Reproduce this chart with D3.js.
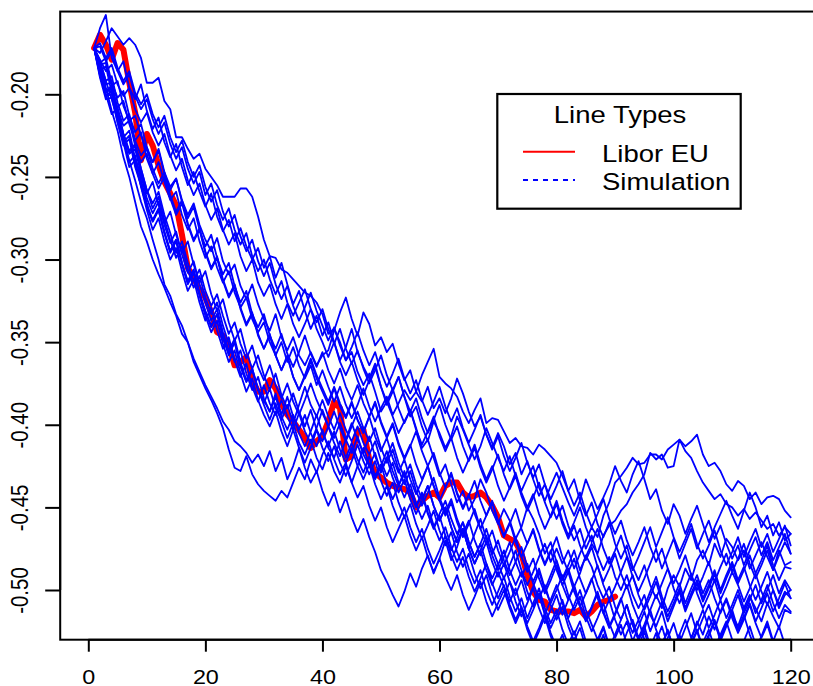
<!DOCTYPE html>
<html>
<head>
<meta charset="utf-8">
<script src="https://cdn.jsdelivr.net/npm/d3@7"></script>
<style>
  html, body { margin: 0; padding: 0; background: #ffffff; }
  svg { display: block; font-family: "Liberation Sans", Arial, Helvetica, sans-serif; }
</style>
</head>
<body>
<svg id="chart" width="813" height="686"></svg>
<script>
// Observed Libor EU rate, days 1..90
const liborEU = [
  -.172, -.164, -.170, -.179, -.169, -.173, -.193, -.211, -.240, -.224,
  -.231, -.243, -.253, -.260, -.267, -.285, -.305, -.311, -.318, -.323,
  -.332, -.344, -.346, -.352, -.364, -.362, -.359, -.373, -.380, -.380,
  -.373, -.378, -.387, -.394, -.398, -.403, -.408, -.414, -.410, -.407,
  -.398, -.386, -.390, -.421, -.419, -.404, -.403, -.421, -.429, -.432,
  -.435, -.437, -.438, -.439, -.441, -.450, -.446, -.443, -.441, -.444,
  -.437, -.435, -.435, -.441, -.444, -.443, -.441, -.444, -.449, -.456,
  -.467, -.469, -.471, -.478, -.491, -.501, -.506, -.507, -.512, -.513,
  -.513, -.513, -.514, -.512, -.516, -.513, -.509, -.507, -.506, -.504
];

// Simulated paths, days 1..120
const sim01 = [
  -.172, -.175, -.168, -.160, -.165, -.170, -.166, -.170, -.178, -.193,
  -.193, -.190, -.204, -.209, -.226, -.226, -.233, -.239, -.236, -.245,
  -.250, -.255, -.262, -.262, -.262, -.257, -.257, -.262, -.274, -.288,
  -.298, -.299, -.306, -.308, -.312, -.316, -.320, -.322, -.326, -.333,
  -.345, -.342, -.350, -.361, -.356, -.368, -.376, -.369, -.380, -.392,
  -.386, -.395, -.405, -.398, -.391, -.402, -.414, -.409, -.420, -.431,
  -.424, -.436, -.447, -.440, -.452, -.445, -.433, -.441, -.452, -.460,
  -.451, -.458, -.469, -.462, -.450, -.457, -.466, -.478, -.471, -.483,
  -.494, -.487, -.498, -.490, -.479, -.486, -.497, -.505, -.498, -.510,
  -.518, -.509, -.521, -.530, -.524, -.512, -.503, -.511, -.499, -.491,
  -.498, -.487, -.494, -.482, -.476, -.485, -.472, -.480, -.469, -.474,
  -.482, -.476, -.487, -.479, -.471, -.480, -.488, -.476, -.485, -.483
];
const sim02 = [
  -.172, -.160, -.152, -.178, -.186, -.180, -.196, -.203, -.194, -.210,
  -.221, -.214, -.229, -.238, -.230, -.244, -.255, -.247, -.259, -.268,
  -.260, -.274, -.283, -.276, -.289, -.281, -.292, -.300, -.293, -.305,
  -.298, -.311, -.302, -.315, -.327, -.319, -.331, -.342, -.334, -.346,
  -.338, -.350, -.361, -.353, -.342, -.356, -.365, -.372, -.363, -.377,
  -.388, -.380, -.371, -.383, -.395, -.389, -.401, -.410, -.398, -.405,
  -.414, -.407, -.395, -.403, -.412, -.421, -.413, -.402, -.411, -.420,
  -.428, -.419, -.431, -.440, -.432, -.425, -.438, -.446, -.437, -.429,
  -.438, -.447, -.455, -.446, -.433, -.442, -.451, -.444, -.436, -.425,
  -.434, -.441, -.430, -.422, -.433, -.445, -.439, -.452, -.460, -.448,
  -.455, -.466, -.457, -.449, -.460, -.471, -.462, -.454, -.446, -.455,
  -.463, -.452, -.441, -.450, -.462, -.455, -.467, -.459, -.470, -.466
];
const sim03 = [
  -.172, -.182, -.181, -.195, -.192, -.207, -.216, -.213, -.225, -.234,
  -.241, -.233, -.247, -.256, -.251, -.264, -.273, -.266, -.279, -.288,
  -.295, -.287, -.301, -.309, -.303, -.316, -.324, -.315, -.327, -.336,
  -.343, -.333, -.347, -.355, -.347, -.358, -.364, -.356, -.364, -.358,
  -.355, -.343, -.332, -.323, -.336, -.346, -.332, -.339, -.352, -.347,
  -.356, -.351, -.363, -.373, -.367, -.380, -.386, -.377, -.390, -.384,
  -.393, -.384, -.372, -.381, -.392, -.401, -.395, -.406, -.414, -.405,
  -.413, -.424, -.417, -.430, -.422, -.433, -.443, -.436, -.448, -.457,
  -.449, -.461, -.470, -.463, -.475, -.467, -.479, -.488, -.480, -.492,
  -.500, -.491, -.503, -.511, -.503, -.515, -.522, -.513, -.526, -.534,
  -.527, -.538, -.530, -.519, -.527, -.516, -.524, -.513, -.505, -.515,
  -.522, -.512, -.504, -.511, -.519, -.508, -.516, -.523, -.512, -.514
];
const sim04 = [
  -.172, -.186, -.183, -.199, -.208, -.204, -.218, -.228, -.223, -.239,
  -.248, -.241, -.253, -.264, -.259, -.273, -.282, -.275, -.289, -.299,
  -.292, -.305, -.314, -.307, -.320, -.329, -.323, -.336, -.344, -.338,
  -.350, -.358, -.350, -.362, -.353, -.364, -.372, -.364, -.376, -.367,
  -.377, -.386, -.377, -.388, -.396, -.388, -.378, -.389, -.398, -.390,
  -.383, -.394, -.387, -.379, -.385, -.380, -.370, -.362, -.354, -.371,
  -.375, -.378, -.383, -.392, -.399, -.391, -.384, -.399, -.396, -.397,
  -.404, -.411, -.408, -.413, -.414, -.418, -.412, -.415, -.419, -.423,
  -.431, -.440, -.433, -.446, -.455, -.447, -.460, -.468, -.459, -.472,
  -.481, -.473, -.486, -.494, -.485, -.497, -.505, -.496, -.487, -.499,
  -.508, -.499, -.490, -.502, -.511, -.503, -.494, -.506, -.498, -.489,
  -.497, -.507, -.499, -.490, -.501, -.509, -.500, -.511, -.503, -.500
];
const sim05 = [
  -.172, -.190, -.203, -.202, -.217, -.229, -.225, -.242, -.255, -.268,
  -.276, -.269, -.283, -.295, -.288, -.302, -.314, -.307, -.321, -.332,
  -.341, -.333, -.347, -.358, -.350, -.365, -.374, -.366, -.379, -.385,
  -.392, -.381, -.394, -.383, -.395, -.403, -.394, -.405, -.413, -.403,
  -.414, -.420, -.410, -.420, -.411, -.421, -.429, -.419, -.431, -.424,
  -.436, -.445, -.437, -.428, -.440, -.449, -.441, -.453, -.462, -.454,
  -.446, -.457, -.466, -.459, -.471, -.480, -.472, -.463, -.475, -.484,
  -.493, -.485, -.476, -.488, -.497, -.489, -.480, -.472, -.483, -.475,
  -.484, -.476, -.487, -.478, -.470, -.462, -.468, -.455, -.447, -.435,
  -.431, -.426, -.420, -.424, -.423, -.418, -.418, -.421, -.415, -.412,
  -.409, -.413, -.410, -.406, -.418, -.425, -.423, -.428, -.436, -.440,
  -.434, -.437, -.445, -.441, -.448, -.444, -.443, -.445, -.452, -.456
];
const sim06 = [
  -.172, -.186, -.199, -.196, -.212, -.224, -.234, -.231, -.245, -.258,
  -.266, -.259, -.273, -.284, -.296, -.289, -.302, -.313, -.306, -.319,
  -.328, -.321, -.334, -.345, -.338, -.351, -.360, -.352, -.365, -.373,
  -.364, -.376, -.384, -.375, -.386, -.394, -.385, -.375, -.385, -.393,
  -.401, -.392, -.402, -.410, -.401, -.392, -.402, -.410, -.402, -.414,
  -.423, -.415, -.427, -.436, -.428, -.440, -.449, -.441, -.432, -.444,
  -.453, -.445, -.457, -.466, -.458, -.470, -.479, -.471, -.483, -.492,
  -.484, -.495, -.503, -.494, -.506, -.498, -.489, -.500, -.491, -.482,
  -.493, -.485, -.476, -.488, -.480, -.472, -.478, -.467, -.461, -.458,
  -.452, -.448, -.441, -.436, -.430, -.417, -.421, -.418, -.426, -.425,
  -.409, -.416, -.420, -.428, -.435, -.440, -.445, -.442, -.448, -.450,
  -.455, -.451, -.457, -.453, -.458, -.463, -.460, -.467, -.462, -.466
];
const sim07 = [
  -.172, -.185, -.196, -.210, -.222, -.238, -.250, -.265, -.280, -.289,
  -.300, -.309, -.317, -.326, -.334, -.345, -.350, -.362, -.370, -.378,
  -.385, -.393, -.402, -.415, -.426, -.428, -.419, -.430, -.436, -.440,
  -.443, -.446, -.440, -.444, -.435, -.426, -.433, -.421, -.429, -.418,
  -.410, -.421, -.430, -.423, -.435, -.444, -.437, -.449, -.458, -.450,
  -.462, -.471, -.463, -.455, -.467, -.476, -.468, -.480, -.489, -.481,
  -.492, -.500, -.491, -.503, -.512, -.504, -.495, -.507, -.516, -.508,
  -.500, -.511, -.520, -.512, -.524, -.533, -.525, -.516, -.528, -.537,
  -.546, -.538, -.529, -.540, -.549, -.541, -.532, -.543, -.552, -.544,
  -.535, -.526, -.518, -.529, -.521, -.512, -.524, -.533, -.525, -.537,
  -.546, -.538, -.549, -.541, -.532, -.524, -.535, -.527, -.519, -.530,
  -.539, -.531, -.522, -.533, -.541, -.532, -.544, -.536, -.547, -.540
];
const sim08 = [
  -.172, -.180, -.192, -.203, -.215, -.226, -.240, -.252, -.265, -.275,
  -.288, -.300, -.315, -.322, -.333, -.340, -.350, -.360, -.368, -.376,
  -.383, -.390, -.398, -.403, -.410, -.413, -.417, -.423, -.418, -.425,
  -.416, -.428, -.420, -.433, -.425, -.414, -.426, -.435, -.428, -.440,
  -.449, -.441, -.453, -.444, -.456, -.465, -.457, -.468, -.477, -.488,
  -.495, -.503, -.510, -.501, -.490, -.498, -.487, -.479, -.490, -.481,
  -.470, -.482, -.474, -.463, -.475, -.484, -.476, -.488, -.497, -.489,
  -.498, -.507, -.499, -.511, -.520, -.512, -.503, -.515, -.506, -.497,
  -.508, -.517, -.509, -.500, -.512, -.521, -.530, -.522, -.534, -.543,
  -.535, -.547, -.556, -.548, -.539, -.530, -.541, -.533, -.524, -.536,
  -.527, -.518, -.529, -.521, -.512, -.523, -.515, -.506, -.517, -.509,
  -.500, -.511, -.503, -.514, -.506, -.497, -.508, -.517, -.509, -.513
];
const sim09 = [
  -.172, -.186, -.198, -.197, -.214, -.229, -.244, -.240, -.256, -.270,
  -.282, -.275, -.289, -.300, -.293, -.307, -.319, -.312, -.326, -.337,
  -.329, -.343, -.354, -.347, -.361, -.371, -.363, -.377, -.386, -.376,
  -.387, -.394, -.385, -.395, -.403, -.393, -.404, -.411, -.402, -.391,
  -.401, -.408, -.399, -.409, -.417, -.407, -.418, -.425, -.417, -.429,
  -.420, -.411, -.423, -.432, -.424, -.436, -.445, -.437, -.449, -.458,
  -.450, -.462, -.471, -.463, -.475, -.484, -.476, -.467, -.479, -.488,
  -.480, -.471, -.483, -.492, -.484, -.496, -.505, -.497, -.509, -.518,
  -.510, -.522, -.531, -.523, -.535, -.544, -.536, -.527, -.539, -.548,
  -.540, -.531, -.543, -.552, -.544, -.535, -.547, -.556, -.548, -.539,
  -.530, -.542, -.533, -.525, -.536, -.528, -.519, -.531, -.522, -.514,
  -.525, -.517, -.508, -.519, -.511, -.502, -.513, -.505, -.496, -.505
];
const sim10 = [
  -.172, -.184, -.198, -.197, -.213, -.226, -.222, -.239, -.249, -.263,
  -.272, -.265, -.279, -.290, -.283, -.297, -.308, -.301, -.315, -.326,
  -.337, -.330, -.344, -.355, -.348, -.362, -.373, -.366, -.378, -.388,
  -.397, -.387, -.398, -.408, -.399, -.411, -.418, -.409, -.420, -.427,
  -.417, -.428, -.435, -.425, -.435, -.425, -.414, -.424, -.433, -.425,
  -.416, -.428, -.437, -.429, -.441, -.450, -.442, -.454, -.463, -.455,
  -.467, -.476, -.468, -.459, -.471, -.480, -.472, -.484, -.493, -.485,
  -.476, -.488, -.497, -.489, -.501, -.510, -.502, -.514, -.523, -.515,
  -.506, -.518, -.527, -.519, -.531, -.540, -.532, -.523, -.535, -.527,
  -.518, -.509, -.521, -.530, -.522, -.534, -.543, -.535, -.547, -.538,
  -.529, -.541, -.532, -.524, -.535, -.527, -.518, -.529, -.521, -.512,
  -.503, -.514, -.506, -.497, -.508, -.500, -.491, -.502, -.494, -.500
];
const sim11 = [
  -.172, -.180, -.192, -.189, -.205, -.216, -.212, -.228, -.237, -.232,
  -.245, -.254, -.247, -.261, -.271, -.264, -.278, -.288, -.281, -.295,
  -.305, -.298, -.312, -.322, -.315, -.329, -.339, -.332, -.345, -.354,
  -.345, -.358, -.367, -.359, -.371, -.379, -.370, -.360, -.370, -.378,
  -.386, -.377, -.387, -.395, -.386, -.397, -.404, -.395, -.386, -.398,
  -.407, -.399, -.411, -.420, -.412, -.424, -.433, -.425, -.437, -.446,
  -.438, -.429, -.441, -.450, -.442, -.454, -.463, -.455, -.446, -.458,
  -.467, -.459, -.471, -.480, -.472, -.463, -.475, -.484, -.476, -.488,
  -.497, -.489, -.501, -.510, -.502, -.493, -.505, -.514, -.506, -.518,
  -.527, -.519, -.531, -.522, -.513, -.525, -.516, -.507, -.519, -.510,
  -.501, -.513, -.504, -.496, -.507, -.499, -.490, -.502, -.493, -.485,
  -.496, -.488, -.479, -.490, -.482, -.473, -.485, -.494, -.486, -.487
];
const sim12 = [
  -.172, -.181, -.178, -.193, -.202, -.198, -.213, -.223, -.218, -.232,
  -.241, -.234, -.248, -.258, -.251, -.265, -.275, -.268, -.282, -.292,
  -.285, -.299, -.309, -.302, -.316, -.326, -.319, -.333, -.341, -.333,
  -.346, -.354, -.345, -.357, -.365, -.356, -.346, -.357, -.365, -.356,
  -.367, -.375, -.366, -.377, -.385, -.376, -.387, -.395, -.387, -.399,
  -.408, -.400, -.412, -.421, -.413, -.404, -.416, -.425, -.417, -.429,
  -.438, -.430, -.442, -.451, -.443, -.434, -.446, -.455, -.447, -.459,
  -.468, -.460, -.451, -.463, -.472, -.464, -.476, -.485, -.477, -.468,
  -.480, -.489, -.481, -.493, -.502, -.494, -.485, -.497, -.506, -.498,
  -.489, -.480, -.492, -.501, -.493, -.484, -.475, -.487, -.478, -.469,
  -.481, -.472, -.463, -.475, -.466, -.458, -.469, -.461, -.472, -.481,
  -.473, -.485, -.476, -.468, -.479, -.471, -.482, -.474, -.466, -.478
];
const sim13 = [
  -.172, -.189, -.200, -.212, -.208, -.224, -.236, -.233, -.248, -.260,
  -.253, -.267, -.278, -.271, -.285, -.296, -.289, -.303, -.314, -.307,
  -.321, -.331, -.324, -.338, -.349, -.342, -.356, -.366, -.358, -.370,
  -.379, -.369, -.382, -.390, -.381, -.392, -.401, -.391, -.403, -.410,
  -.401, -.411, -.419, -.409, -.399, -.409, -.417, -.407, -.419, -.428,
  -.420, -.432, -.441, -.433, -.445, -.454, -.446, -.437, -.449, -.458,
  -.450, -.462, -.471, -.463, -.475, -.466, -.457, -.469, -.478, -.470,
  -.482, -.491, -.483, -.474, -.486, -.495, -.487, -.499, -.508, -.500,
  -.491, -.503, -.512, -.504, -.516, -.525, -.517, -.508, -.520, -.529,
  -.521, -.533, -.542, -.534, -.525, -.537, -.546, -.538, -.550, -.559,
  -.551, -.542, -.554, -.546, -.537, -.529, -.540, -.549, -.541, -.553,
  -.562, -.554, -.545, -.556, -.548, -.539, -.550, -.558, -.549, -.550
];
const sim14 = [
  -.172, -.179, -.186, -.182, -.194, -.201, -.196, -.209, -.217, -.211,
  -.223, -.231, -.224, -.237, -.246, -.239, -.252, -.261, -.254, -.267,
  -.276, -.269, -.282, -.291, -.284, -.298, -.307, -.300, -.314, -.322,
  -.315, -.327, -.336, -.327, -.339, -.347, -.339, -.330, -.342, -.350,
  -.359, -.350, -.362, -.370, -.362, -.373, -.382, -.373, -.365, -.377,
  -.386, -.378, -.390, -.399, -.391, -.403, -.412, -.404, -.395, -.407,
  -.416, -.408, -.420, -.429, -.421, -.412, -.424, -.433, -.425, -.437,
  -.446, -.438, -.429, -.441, -.450, -.442, -.454, -.463, -.455, -.446,
  -.458, -.467, -.459, -.450, -.462, -.471, -.463, -.475, -.484, -.476,
  -.467, -.479, -.488, -.480, -.471, -.462, -.474, -.465, -.456, -.468,
  -.477, -.469, -.460, -.472, -.481, -.473, -.464, -.476, -.485, -.477,
  -.468, -.480, -.471, -.463, -.474, -.466, -.477, -.469, -.461, -.473
];
const sim15 = [
  -.172, -.188, -.201, -.200, -.217, -.231, -.227, -.244, -.255, -.268,
  -.277, -.270, -.284, -.295, -.288, -.302, -.313, -.306, -.320, -.331,
  -.340, -.333, -.347, -.357, -.350, -.364, -.374, -.367, -.379, -.387,
  -.378, -.390, -.397, -.388, -.399, -.388, -.377, -.388, -.395, -.385,
  -.395, -.403, -.393, -.403, -.410, -.401, -.411, -.418, -.410, -.422,
  -.431, -.423, -.435, -.444, -.436, -.448, -.457, -.449, -.461, -.470,
  -.462, -.474, -.483, -.475, -.487, -.496, -.488, -.500, -.509, -.501,
  -.492, -.504, -.513, -.505, -.517, -.508, -.499, -.511, -.520, -.512,
  -.524, -.533, -.525, -.537, -.546, -.538, -.529, -.541, -.550, -.542,
  -.554, -.563, -.555, -.546, -.558, -.567, -.559, -.550, -.561, -.553,
  -.544, -.556, -.547, -.539, -.550, -.542, -.533, -.545, -.554, -.546,
  -.557, -.549, -.540, -.551, -.543, -.554, -.562, -.553, -.545, -.555
];
const sim16 = [
  -.172, -.171, -.180, -.174, -.186, -.194, -.188, -.201, -.209, -.203,
  -.215, -.224, -.217, -.230, -.239, -.232, -.245, -.254, -.247, -.261,
  -.254, -.267, -.276, -.269, -.282, -.291, -.284, -.298, -.307, -.300,
  -.312, -.321, -.313, -.326, -.334, -.326, -.318, -.330, -.338, -.330,
  -.342, -.351, -.342, -.354, -.363, -.355, -.366, -.375, -.367, -.358,
  -.370, -.379, -.371, -.383, -.392, -.384, -.396, -.405, -.397, -.388,
  -.400, -.409, -.401, -.413, -.422, -.414, -.426, -.435, -.427, -.418,
  -.430, -.439, -.431, -.443, -.452, -.444, -.435, -.447, -.456, -.448,
  -.460, -.469, -.461, -.473, -.482, -.474, -.486, -.495, -.487, -.478,
  -.490, -.499, -.491, -.503, -.512, -.504, -.495, -.507, -.516, -.508,
  -.499, -.511, -.502, -.494, -.505, -.497, -.488, -.500, -.491, -.483,
  -.494, -.486, -.497, -.506, -.498, -.489, -.500, -.509, -.501, -.505
];
const sim17 = [
  -.172, -.185, -.198, -.195, -.211, -.224, -.235, -.230, -.245, -.258,
  -.269, -.262, -.276, -.288, -.299, -.292, -.306, -.317, -.310, -.323,
  -.333, -.326, -.340, -.351, -.362, -.355, -.369, -.379, -.371, -.384,
  -.392, -.383, -.395, -.403, -.394, -.405, -.413, -.404, -.394, -.405,
  -.413, -.404, -.415, -.423, -.414, -.425, -.433, -.424, -.436, -.445,
  -.437, -.449, -.458, -.450, -.462, -.471, -.463, -.475, -.484, -.476,
  -.467, -.479, -.488, -.480, -.492, -.501, -.493, -.484, -.496, -.505,
  -.497, -.509, -.518, -.510, -.522, -.531, -.523, -.514, -.526, -.535,
  -.527, -.539, -.548, -.540, -.552, -.561, -.553, -.544, -.556, -.547,
  -.538, -.550, -.541, -.532, -.544, -.535, -.526, -.538, -.529, -.520,
  -.532, -.523, -.514, -.526, -.517, -.509, -.520, -.529, -.521, -.512,
  -.524, -.515, -.527, -.536, -.528, -.519, -.531, -.522, -.533, -.530
];
const sim18 = [
  -.172, -.183, -.194, -.193, -.209, -.219, -.216, -.231, -.241, -.236,
  -.248, -.257, -.250, -.263, -.273, -.266, -.279, -.289, -.282, -.296,
  -.306, -.299, -.313, -.323, -.316, -.330, -.340, -.333, -.346, -.354,
  -.346, -.358, -.367, -.358, -.371, -.379, -.371, -.361, -.372, -.380,
  -.388, -.378, -.389, -.396, -.387, -.397, -.405, -.395, -.407, -.416,
  -.408, -.420, -.429, -.421, -.433, -.442, -.434, -.425, -.437, -.446,
  -.455, -.447, -.459, -.468, -.460, -.451, -.463, -.472, -.464, -.476,
  -.485, -.477, -.468, -.480, -.489, -.481, -.493, -.502, -.494, -.485,
  -.497, -.506, -.498, -.510, -.519, -.511, -.502, -.514, -.523, -.515,
  -.506, -.497, -.509, -.518, -.510, -.501, -.492, -.504, -.513, -.505,
  -.496, -.508, -.499, -.491, -.502, -.494, -.505, -.514, -.506, -.517,
  -.526, -.518, -.509, -.520, -.529, -.521, -.532, -.540, -.531, -.535
];
const sim19 = [
  -.172, -.188, -.201, -.198, -.214, -.228, -.241, -.237, -.252, -.266,
  -.277, -.270, -.284, -.296, -.289, -.303, -.315, -.308, -.322, -.334,
  -.344, -.337, -.351, -.362, -.355, -.369, -.380, -.372, -.385, -.394,
  -.401, -.392, -.404, -.413, -.403, -.414, -.423, -.414, -.403, -.414,
  -.422, -.413, -.423, -.431, -.422, -.412, -.422, -.430, -.422, -.434,
  -.443, -.435, -.447, -.456, -.448, -.460, -.469, -.461, -.452, -.464,
  -.473, -.465, -.477, -.486, -.478, -.490, -.499, -.491, -.503, -.512,
  -.504, -.495, -.507, -.516, -.508, -.499, -.511, -.520, -.512, -.503,
  -.515, -.506, -.497, -.509, -.518, -.510, -.501, -.513, -.522, -.514,
  -.505, -.517, -.526, -.518, -.530, -.539, -.531, -.522, -.534, -.543,
  -.535, -.547, -.556, -.548, -.539, -.551, -.560, -.552, -.543, -.555,
  -.564, -.556, -.547, -.558, -.566, -.557, -.549, -.560, -.552, -.560
];
const sim20 = [
  -.172, -.169, -.178, -.172, -.184, -.192, -.186, -.199, -.206, -.200,
  -.212, -.220, -.213, -.226, -.235, -.228, -.241, -.250, -.243, -.256,
  -.265, -.258, -.271, -.280, -.273, -.286, -.295, -.288, -.301, -.310,
  -.302, -.315, -.324, -.316, -.328, -.337, -.329, -.320, -.331, -.340,
  -.349, -.341, -.352, -.361, -.353, -.344, -.355, -.364, -.356, -.368,
  -.377, -.369, -.360, -.372, -.381, -.373, -.385, -.394, -.386, -.377,
  -.389, -.398, -.390, -.402, -.411, -.403, -.394, -.406, -.415, -.407,
  -.419, -.428, -.420, -.411, -.423, -.432, -.424, -.436, -.445, -.437,
  -.428, -.440, -.449, -.441, -.453, -.462, -.454, -.445, -.457, -.466,
  -.458, -.470, -.479, -.471, -.462, -.474, -.483, -.475, -.487, -.496,
  -.488, -.479, -.491, -.500, -.492, -.483, -.495, -.486, -.478, -.489,
  -.481, -.472, -.484, -.493, -.485, -.476, -.488, -.479, -.471, -.478
];
const simulations = [sim01, sim02, sim03, sim04, sim05, sim06, sim07, sim08, sim09, sim10,
                     sim11, sim12, sim13, sim14, sim15, sim16, sim17, sim18, sim19, sim20];

const xTicks = [0, 20, 40, 60, 80, 100, 120];
const yTicks = [-0.50, -0.45, -0.40, -0.35, -0.30, -0.25, -0.20];
const legendTitle = "Line Types";
const legendLabels = ["Libor EU", "Simulation"];
const legendColors = ["#ff0000", "#0000ff"];

(function () {
  // ---- scales & plot region ----
  const svg = d3.select("#chart");
  const x = d3.scaleLinear().domain([0, 120]).range([88.3, 790.7]);
  const y = d3.scaleLinear().domain([-0.50, -0.20]).range([590, 94.3]);

  // x limits padded beyond the day range; y limits = Libor range padded by 4%
  const xlim = [-4.8, 124.8];
  const [lo, hi] = d3.extent(liborEU);
  const pad = (hi - lo) * 0.04;
  const ylim = [lo - pad, hi + pad];

  const pL = x(xlim[0]), pR = x(xlim[1]);
  const pT = y(ylim[1]), pB = y(ylim[0]);

  const TEXT_STRETCH = 1.14;

  svg.append("defs").append("clipPath").attr("id", "plotClip")
    .append("rect")
    .attr("x", pL).attr("y", pT)
    .attr("width", pR - pL).attr("height", pB - pT);

  const line = d3.line()
    .x((d, i) => x(i + 1))
    .y(d => y(d));

  const plot = svg.append("g").attr("clip-path", "url(#plotClip)");

  // observed series first, simulations drawn over it
  plot.append("path")
    .datum(liborEU)
    .attr("d", line)
    .attr("fill", "none")
    .attr("stroke", legendColors[0])
    .attr("stroke-width", 6)
    .attr("stroke-linejoin", "round")
    .attr("stroke-linecap", "round");

  plot.selectAll("path.sim")
    .data(simulations)
    .join("path")
    .attr("class", "sim")
    .attr("d", line)
    .attr("fill", "none")
    .attr("stroke", legendColors[1])
    .attr("stroke-width", 1.8)
    .attr("stroke-linejoin", "round")
    .attr("stroke-linecap", "round");

  // ---- frame ----
  svg.append("rect")
    .attr("x", pL).attr("y", pT)
    .attr("width", pR - pL).attr("height", pB - pT)
    .attr("fill", "none")
    .attr("stroke", "#000")
    .attr("stroke-width", 2);

  // ---- axes ----
  const xAxis = svg.append("g")
    .attr("transform", `translate(0,${pB})`)
    .call(d3.axisBottom(x).tickValues(xTicks).tickSize(12).tickSizeOuter(0)
      .tickFormat(d => String(d)));
  const yAxis = svg.append("g")
    .attr("transform", `translate(${pL},0)`)
    .call(d3.axisLeft(y).tickValues(yTicks).tickSize(15).tickSizeOuter(0)
      .tickFormat(d => d.toFixed(2)));

  [xAxis, yAxis].forEach(g => {
    g.select(".domain").attr("stroke", "#000").attr("stroke-width", 2);
    g.selectAll(".tick line").attr("stroke", "#000").attr("stroke-width", 2);
    g.selectAll(".tick text")
      .attr("fill", "#000")
      .attr("font-size", 20.5)
      .attr("font-family", '"Liberation Sans", Arial, sans-serif');
  });
  xAxis.select(".domain").attr("d", `M${x(xTicks[0])},0H${x(xTicks[xTicks.length - 1])}`);
  yAxis.select(".domain").attr("d", `M0,${y(yTicks[0])}V${y(yTicks[yTicks.length - 1])}`);

  xAxis.selectAll(".tick text")
    .attr("x", 0).attr("y", 0).attr("dy", null)
    .attr("text-anchor", "middle")
    .attr("transform", `translate(0,44.5) scale(${TEXT_STRETCH},1)`);

  yAxis.selectAll(".tick text")
    .attr("x", 0).attr("y", 0).attr("dy", null)
    .attr("text-anchor", "middle")
    .attr("transform", `translate(-32,0) scale(${TEXT_STRETCH},1) rotate(-90)`);

  // ---- legend ----
  const legend = svg.append("g");
  legend.append("rect")
    .attr("x", 497.3).attr("y", 94)
    .attr("width", 243.4).attr("height", 114.7)
    .attr("fill", "#fff")
    .attr("stroke", "#000")
    .attr("stroke-width", 2.2);

  legend.append("text")
    .attr("transform", "translate(620,123.3) scale(1.17,1)")
    .attr("text-anchor", "middle")
    .attr("font-size", 23.5)
    .attr("fill", "#000")
    .text(legendTitle);

  const rows = legend.selectAll("g.row")
    .data(legendLabels)
    .join("g")
    .attr("class", "row")
    .attr("transform", (d, i) => `translate(0,${151.7 + i * 28.4})`);

  rows.append("line")
    .attr("x1", 523).attr("x2", 575)
    .attr("y1", 0).attr("y2", 0)
    .attr("stroke", (d, i) => legendColors[i])
    .attr("stroke-width", 2)
    .attr("stroke-dasharray", (d, i) => i === 1 ? "5,5" : null);

  rows.append("text")
    .attr("transform", "translate(602,10) scale(1.17,1)")
    .attr("font-size", 23.5)
    .attr("fill", "#000")
    .text(d => d);
})();
</script>
</body>
</html>
